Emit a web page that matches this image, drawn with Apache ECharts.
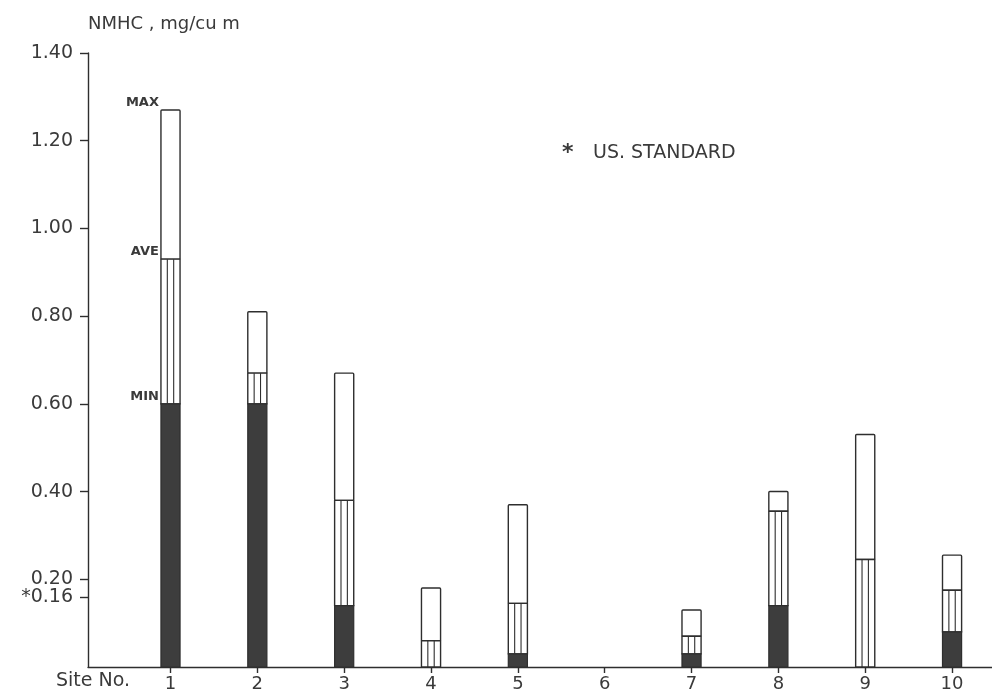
<!DOCTYPE html>
<html>
<head>
<meta charset="utf-8">
<script src="https://cdn.jsdelivr.net/npm/echarts@6/dist/echarts.min.js"></script>
<style>
  html, body { margin: 0; padding: 0; background: #fff; }
  #chart { width: 992px; height: 699px; }
</style>
</head>
<body>
<div id="chart"></div>
<script>
// Site numbers along the x axis
const siteNos = [1, 2, 3, 4, 5, 6, 7, 8, 9, 10];
// NMHC concentrations, mg/cu m (site 6 has no data)
const minVals = [0.60, 0.60, 0.14, 0.00, 0.03, null, 0.03, 0.14, 0.00, 0.08];
const aveVals = [0.93, 0.67, 0.38, 0.06, 0.145, null, 0.07, 0.355, 0.245, 0.175];
const maxVals = [1.27, 0.81, 0.67, 0.18, 0.37, null, 0.13, 0.40, 0.53, 0.255];
// Regular y ticks, plus the US standard level marked separately
const yTicks = [0.20, 0.40, 0.60, 0.80, 1.00, 1.20, 1.40];
const usStandard = 0.16;

const INK = '#2e2e2e';
const TEXT = '#3a3a3a';
const FONT = 'DejaVu Sans';

const seriesData = siteNos.map((s, i) =>
  [s, minVals[i] == null ? NaN : minVals[i],
      aveVals[i] == null ? NaN : aveVals[i],
      maxVals[i] == null ? NaN : maxVals[i]]);

function renderBar(params, api) {
  const x = api.value(0), mn = api.value(1), av = api.value(2), mx = api.value(3);
  if (isNaN(mx)) return null;
  const w = api.size([1, 0])[0] * 0.22;
  const p0 = api.coord([x, 0]);
  const pMin = api.coord([x, mn]);
  const pAve = api.coord([x, av]);
  const pMax = api.coord([x, mx]);
  const left = p0[0] - w / 2;
  const lineStyle = { stroke: INK, lineWidth: 1.4 };
  const children = [];

  // maximum segment: open box from average up to maximum
  children.push({
    type: 'rect',
    shape: { x: left, y: pMax[1], width: w, height: pAve[1] - pMax[1], r: 1 },
    style: Object.assign({ fill: '#fff' }, lineStyle)
  });
  // average segment: vertical hatching from minimum up to average
  if (pMin[1] - pAve[1] > 0.5) {
    children.push({
      type: 'rect',
      shape: { x: left, y: pAve[1], width: w, height: pMin[1] - pAve[1] },
      style: Object.assign({ fill: '#fff' }, lineStyle)
    });
    [1 / 3, 2 / 3].forEach(f => {
      children.push({
        type: 'line',
        shape: { x1: left + w * f, y1: pAve[1], x2: left + w * f, y2: pMin[1] },
        style: { stroke: INK, lineWidth: 1.1 }
      });
    });
  }
  // minimum segment: solid dark fill from zero to minimum
  if (p0[1] - pMin[1] > 0.5) {
    children.push({
      type: 'rect',
      shape: { x: left, y: pMin[1], width: w, height: p0[1] - pMin[1] },
      style: { fill: '#3d3d3d', stroke: INK, lineWidth: 1.2 }
    });
  }
  // key labels beside the first bar
  if (params.dataIndex === 0) {
    [['MAX', pMax[1]], ['AVE', pAve[1]], ['MIN', pMin[1]]].forEach(([t, y]) => {
      children.push({
        type: 'text',
        style: {
          text: t, x: left - 2, y: y - 1, align: 'right', verticalAlign: 'bottom',
          fill: TEXT, font: 'bold 13px "' + FONT + '"'
        }
      });
    });
  }
  return { type: 'group', children };
}

const chart = echarts.init(document.getElementById('chart'), null, { renderer: 'canvas' });

const axisCommon = {
  type: 'value',
  min: 0, max: 1.4,
  position: 'left',
  splitLine: { show: false }
};

chart.setOption({
  backgroundColor: '#fff',
  animation: false,
  grid: { left: 88, top: 53, right: 0, bottom: 32 },
  xAxis: {
    type: 'value',
    min: 0.05, max: 10.46,
    splitLine: { show: false },
    axisLine: { show: true, lineStyle: { color: INK, width: 1.4 } },
    axisTick: { show: true, length: 6, inside: false, customValues: siteNos, lineStyle: { color: INK, width: 1.4 } },
    axisLabel: {
      customValues: siteNos, margin: 8,
      fontFamily: FONT, fontSize: 18, color: TEXT,
      formatter: v => String(Math.round(v))
    }
  },
  yAxis: [
    Object.assign({}, axisCommon, {
      name: 'NMHC , mg/cu m',
      nameLocation: 'end',
      nameGap: 20,
      nameTextStyle: { fontFamily: FONT, fontSize: 18, color: TEXT, align: 'left', verticalAlign: 'bottom' },
      axisLine: { show: true, lineStyle: { color: INK, width: 1.4 } },
      axisTick: { show: true, length: 8, customValues: yTicks, lineStyle: { color: INK, width: 1.4 } },
      axisLabel: {
        customValues: yTicks, margin: 15, hideOverlap: false,
        fontFamily: FONT, fontSize: 19, color: TEXT,
        formatter: v => v.toFixed(2)
      }
    }),
    // the US standard level, marked with an asterisk
    Object.assign({}, axisCommon, {
      offset: 0,
      axisLine: { show: false },
      axisTick: { show: true, length: 8, customValues: [usStandard], lineStyle: { color: INK, width: 1.4 } },
      axisLabel: {
        customValues: [usStandard], margin: 15, hideOverlap: false,
        fontFamily: FONT, fontSize: 19, color: TEXT,
        formatter: v => '*' + v.toFixed(2)
      }
    })
  ],
  graphic: [
    {
      type: 'text',
      left: 56, top: 672,
      style: { text: 'Site No.', font: '19px "' + FONT + '"', fill: TEXT }
    },
    {
      type: 'text',
      left: 562, top: 142,
      style: { text: '*', font: 'bold 22px "' + FONT + '"', fill: TEXT }
    },
    {
      type: 'text',
      left: 593, top: 144,
      style: { text: 'US. STANDARD', font: '19px "' + FONT + '"', fill: TEXT }
    }
  ],
  series: [{
    type: 'custom',
    renderItem: renderBar,
    encode: { x: 0, y: [1, 2, 3] },
    data: seriesData,
    yAxisIndex: 0,
    clip: false
  }]
});
</script>
</body>
</html>
